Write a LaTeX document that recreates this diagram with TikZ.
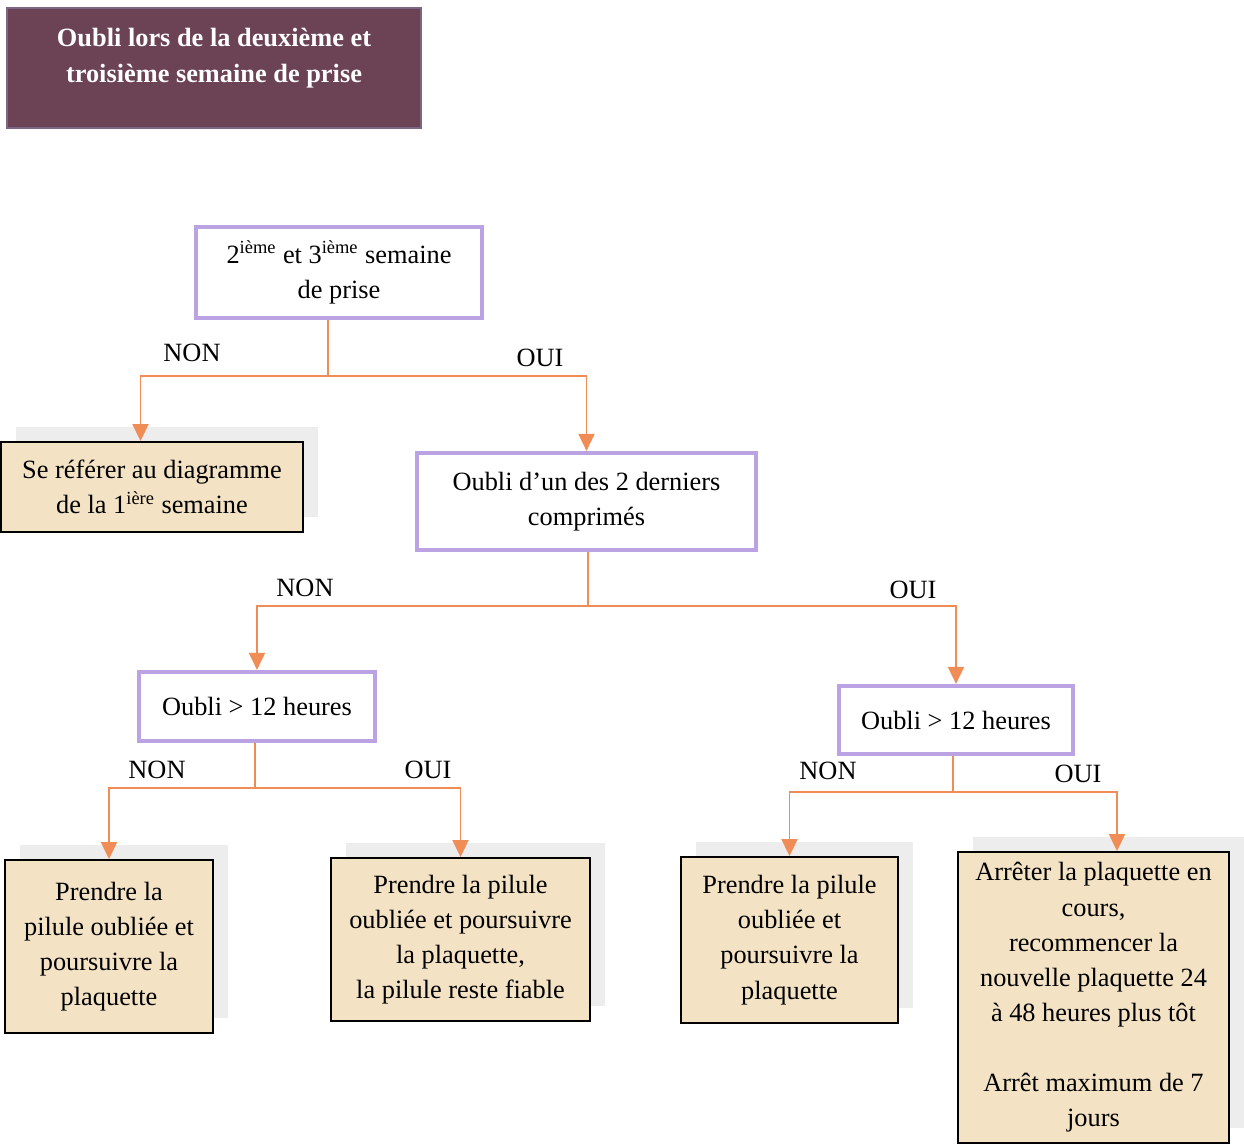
\documentclass[tikz,border=0pt]{standalone}
\usepackage{fontspec}
\setmainfont{Liberation Serif}
\usetikzlibrary{arrows.meta,shadows}
\definecolor{prune}{HTML}{6B4354}
\definecolor{pruneborde}{HTML}{7E6584}
\definecolor{lavande}{HTML}{BBA3E3}
\definecolor{sable}{HTML}{F3E2C4}
\definecolor{orangefl}{HTML}{F08C55}
\begin{document}
\begin{tikzpicture}[x=0.02cm,y=-0.02cm,
    every node/.style={font=\fontsize{15}{20}\selectfont, align=center, inner sep=2pt},
    titre/.style={draw=pruneborde, line width=1.2pt, fill=prune},
    question/.style={draw=lavande, line width=2.4pt, fill=white},
    action/.style={draw=black, line width=1.1pt, fill=sable,
        drop shadow={shadow xshift=0.3cm, shadow yshift=0.3cm, fill=black!7, opacity=1}},
    trait/.style={draw=orangefl, line width=1.1pt},
    fleche/.style={trait, -{Triangle[width=0.32cm,length=0.34cm]}, orangefl}]
  \useasboundingbox (0,0) rectangle (1244,1144);
  \node[titre, minimum width=8.28cm, minimum height=2.4cm] (t0) at (214,68) {};
  \node[text=white, font=\fontsize{15}{20.5}\selectfont\bfseries] (t1) at (214,58) {Oubli lors de la deuxième et\\troisième semaine de prise};
  \node[question, minimum width=5.72cm, minimum height=1.82cm] (q0) at (339,272.5) {2\textsuperscript{ième} et 3\textsuperscript{ième} semaine\\de prise};
  \node[action, minimum width=6.04cm, minimum height=1.8cm] (a0) at (152,487) {Se référer au diagramme\\de la 1\textsuperscript{ière} semaine};
  \node[question, minimum width=6.78cm, minimum height=1.94cm] (q1) at (586.5,501.5) {Oubli d'un des 2 derniers\\comprimés};
  \node[question, minimum width=4.72cm, minimum height=1.38cm] (q2) at (257,706.5) {Oubli > 12 heures};
  \node[question, minimum width=4.68cm, minimum height=1.36cm] (q3) at (956,720) {Oubli > 12 heures};
  \node[action, minimum width=4.16cm, minimum height=3.46cm] (a1) at (109,946.5) {Prendre la\\pilule oubliée et\\poursuivre la\\plaquette};
  \node[action, minimum width=5.18cm, minimum height=3.26cm] (a2) at (460.5,939.5) {Prendre la pilule\\oubliée et poursuivre\\la plaquette,\\la pilule reste fiable};
  \node[action, minimum width=4.34cm, minimum height=3.32cm] (a3) at (789.5,940) {Prendre la pilule\\oubliée et\\poursuivre la\\plaquette};
  \node[action, minimum width=5.42cm, minimum height=5.82cm] (a4) at (1093.5,997.5) {Arrêter la plaquette en\\cours,\\recommencer la\\nouvelle plaquette 24\\à 48 heures plus tôt\\[20pt]Arrêt maximum de 7\\jours};
  \coordinate (j0) at (328,376);
  \coordinate (j1) at (588,606);
  \coordinate (j2) at (255,788);
  \coordinate (j3) at (953,792);
  \node (l0) at (192,353) {NON};
  \node (l1) at (540,358) {OUI};
  \node (l2) at (305,588) {NON};
  \node (l3) at (913,590) {OUI};
  \node (l4) at (157,770) {NON};
  \node (l5) at (428,770) {OUI};
  \node (l6) at (828,771) {NON};
  \node (l7) at (1078,774) {OUI};
  \draw[trait] (j0 |- q0.south) -- (j0);
  \draw[fleche] (j0) -| ([xshift=-0.23cm]a0.north);
  \draw[fleche] (j0) -| (q1.north);
  \draw[trait] (j1 |- q1.south) -- (j1);
  \draw[fleche] (j1) -| (q2.north);
  \draw[fleche] (j1) -| (q3.north);
  \draw[trait] (j2 |- q2.south) -- (j2);
  \draw[fleche] (j2) -| (a1.north);
  \draw[fleche] (j2) -| (a2.north);
  \draw[trait] (j3 |- q3.south) -- (j3);
  \draw[fleche] (j3) -| (a3.north);
  \draw[fleche] (j3) -| ([xshift=0.47cm]a4.north);
\end{tikzpicture}
\end{document}
